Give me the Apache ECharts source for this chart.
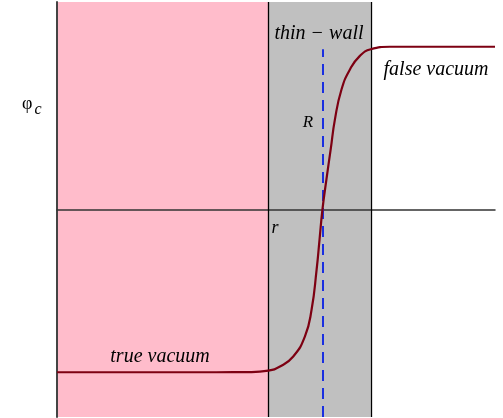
<!DOCTYPE html>
<html>
<head>
<meta charset="utf-8">
<script src="https://cdn.jsdelivr.net/npm/echarts@6/dist/echarts.min.js"></script>
<style>
  html, body { margin: 0; padding: 0; background: #ffffff; }
  #chart { width: 503px; height: 418px; }
</style>
</head>
<body>
<div id="chart"></div>
<script>
// Bubble profile: field value phi against radius r (thin-wall approximation)
const rValues   = [0, 3, 6, 7.27, 7.96, 8.40, 8.90, 9.34, 9.59, 9.78, 9.89, 10.0, 10.15, 10.31, 10.47, 10.72, 11.04, 11.41, 11.82, 12.54, 14.5, 16.5];
const phiValues = [-1.0, -1.0, -1.0, -0.999, -0.99, -0.965, -0.903, -0.780, -0.616, -0.369, -0.185, 0.0, 0.185, 0.369, 0.554, 0.739, 0.862, 0.944, 0.985, 1.0, 1.0, 1.0];

// Regions along r
const rMax = 16.5;
const wallStart = 7.96;   // inner edge of the wall (r)
const wallEnd = 11.82;    // outer edge of the wall
const bubbleRadius = 10.0; // R
const dashTop = 0.985;
const phiLimit = 1.275;

// Labels
const labelPhi = 'φ';
const labelPhiSub = 'c';
const labelWall = 'thin − wall';
const labelFalse = 'false vacuum';
const labelTrue = 'true vacuum';
const labelR = 'R';
const labelr = 'r';

const curve = rValues.map((r, i) => [r, phiValues[i]]);

const chart = echarts.init(document.getElementById('chart'), null, { renderer: 'canvas' });
const font = '"Liberation Serif", "DejaVu Serif", serif';

chart.setOption({
  animation: false,
  backgroundColor: '#ffffff',
  grid: { left: 57, right: 8, top: 2, bottom: 1 },
  xAxis: {
    type: 'value', min: 0, max: rMax, z: 3,
    axisLine: { onZero: true, lineStyle: { color: '#333333', width: 1.5 } },
    axisTick: { show: false }, axisLabel: { show: false }, splitLine: { show: false }
  },
  yAxis: {
    type: 'value', min: -phiLimit, max: phiLimit, z: 3,
    axisLine: { show: true, onZero: false, lineStyle: { color: '#444444', width: 2 } },
    axisTick: { show: false }, axisLabel: { show: false }, splitLine: { show: false }
  },
  series: [
    {
      // shaded regions and wall boundaries
      type: 'line', data: [], z: 1, silent: true,
      markArea: {
        silent: true,
        data: [
          [{ xAxis: 0, itemStyle: { color: '#ffbccb' } }, { xAxis: wallStart }],
          [{ xAxis: wallStart, itemStyle: { color: '#c0c0c0' } }, { xAxis: wallEnd }]
        ]
      },
      markLine: {
        silent: true, symbol: 'none', label: { show: false },
        lineStyle: { color: '#000000', width: 1.3, type: 'solid' },
        data: [{ xAxis: wallStart }, { xAxis: wallEnd }]
      }
    },
    {
      type: 'line', data: curve, z: 5,
      smooth: 0.5, showSymbol: false,
      lineStyle: { color: '#7d0012', width: 2.2 },
      markLine: {
        silent: true, symbol: 'none', label: { show: false },
        lineStyle: { color: '#1a2fe0', width: 2, type: [11, 7] },
        data: [[{ coord: [bubbleRadius, -phiLimit] }, { coord: [bubbleRadius, dashTop] }]]
      }
    }
  ],
  graphic: [
    { type: 'text', left: 22, top: 95, z: 10, style: {
      text: '{a|' + labelPhi + '}{b|' + labelPhiSub + '}',
      rich: {
        a: { fontFamily: font, fontSize: 18, fill: '#000' },
        b: { fontFamily: font, fontSize: 16, fontStyle: 'italic', fill: '#000', padding: [12, 0, 0, 2] }
      } } },
    { type: 'text', x: 319, y: 34, z: 10, style: { text: labelWall, font: 'italic 20px ' + font, fill: '#000', align: 'center', verticalAlign: 'middle' } },
    { type: 'text', x: 436, y: 70, z: 10, style: { text: labelFalse, font: 'italic 20px ' + font, fill: '#000', align: 'center', verticalAlign: 'middle' } },
    { type: 'text', x: 160, y: 357, z: 10, style: { text: labelTrue, font: 'italic 20px ' + font, fill: '#000', align: 'center', verticalAlign: 'middle' } },
    { type: 'text', x: 308, y: 123, z: 10, style: { text: labelR, font: 'italic 17px ' + font, fill: '#000', align: 'center', verticalAlign: 'middle' } },
    { type: 'text', x: 275, y: 228, z: 10, style: { text: labelr, font: 'italic 18px ' + font, fill: '#000', align: 'center', verticalAlign: 'middle' } }
  ]
});
</script>
</body>
</html>
